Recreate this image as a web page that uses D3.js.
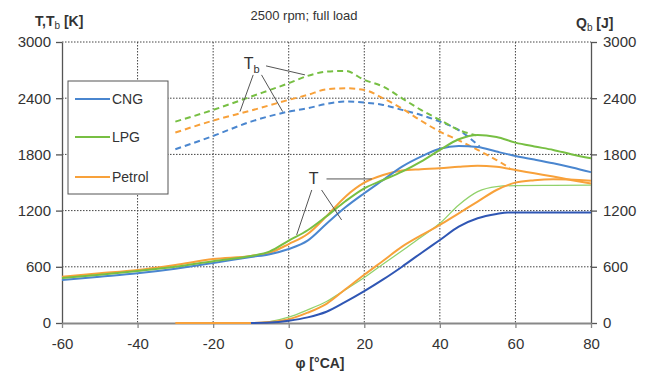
<!DOCTYPE html>
<html><head><meta charset="utf-8">
<script src="https://cdn.jsdelivr.net/npm/d3@7"></script>
<style>body{margin:0;background:#fff}svg{display:block;font-family:"Liberation Sans",Arial,sans-serif}</style>
</head><body><svg id="c" width="646" height="374"></svg>
<script>
// ---- data ----
const xTicks = [-60,-40,-20,0,20,40,60,80];
const yTicks = [0,600,1200,1800,2400,3000];
const seriesNames = ["CNG","LPG","Petrol"];

const tX = [-60,-50,-40,-30,-20,-10,-5,0,5,10,15,20,25,30,35,40,45,50,55,60,65,70,75,80];
const tCNG    = [460,495,531,580,640,705,735,790,880,1060,1235,1385,1527,1669,1776,1860,1890,1880,1830,1783,1745,1705,1660,1610];
const tLPG    = [480,515,555,600,660,715,765,880,990,1140,1300,1438,1527,1616,1723,1848,1962,2008,1985,1926,1885,1848,1800,1759];
const tPetrol = [495,530,566,620,683,716,750,843,950,1140,1349,1498,1580,1627,1641,1652,1669,1680,1667,1634,1598,1563,1525,1490];

const tbCNGx    = [-30,-20,-10,0,5,10,15,20,25,30,35,40,45,50.5];
const tbCNG     = [1855,1997,2150,2257,2293,2339,2364,2353,2328,2275,2221,2150,2060,1885];
const tbLPGx    = [-30,-20,-10,0,5,10,15,20,25,30,35,40,45,49.5];
const tbLPG     = [2150,2275,2417,2560,2638,2684,2691,2595,2524,2399,2275,2168,2061,2005];
const tbPetrolx = [-30,-20,-10,0,5,10,15,20,25,30,35,40,45,50,55,58.5];
const tbPetrol  = [2033,2161,2268,2382,2435,2495,2506,2488,2399,2290,2160,2043,1950,1848,1740,1655];

const qCNGx    = [-10,-5,0,5,10,15,20,25,30,35,40,45,50,55,58,60,70,80];
const qCNG     = [0,5,25,60,120,225,340,465,601,745,886,1029,1118,1164,1180,1180,1180,1180];
const qLPGx    = [-22,-10,-5,0,5,10,15,20,25,30,35,40,45,50,55,60,70,80];
const qLPG     = [0,0,15,62,140,230,355,485,630,772,915,1064,1260,1402,1456,1467,1470,1472];
const qPetrolx = [-30,-20,-10,-5,0,5,10,15,20,25,30,35,40,45,50,55,60,65,70,80];
const qPetrol  = [0,0,0,10,40,110,205,360,515,665,815,935,1047,1171,1296,1420,1499,1525,1535,1520];

// ---- layout ----
const svg = d3.select("#c");
const x = d3.scaleLinear().domain([-60,80]).range([62,591]);
const y = d3.scaleLinear().domain([0,3000]).range([323,42]);
const c = {CNG:"#4a86cf", LPG:"#77bf43", Petrol:"#f8a13a"};
const cQ = {CNG:"#2f56b4", LPG:"#92d26c", Petrol:"#f8a13a"};
const fmt = d => String(d);

// grid
const g = svg.append("g");
g.selectAll(".gx").data(xTicks.filter(d=>d>-60&&d<80)).enter().append("line")
 .attr("x1",d=>x(d)).attr("x2",d=>x(d)).attr("y1",y(3000)).attr("y2",y(0))
 .attr("stroke","#444").attr("stroke-width",1).attr("stroke-dasharray","1.5,1.5");
g.selectAll(".gy").data(yTicks.filter(d=>d>0)).enter().append("line")
 .attr("x1",x(-60)).attr("x2",x(80)).attr("y1",d=>y(d)).attr("y2",d=>y(d))
 .attr("stroke","#444").attr("stroke-width",1).attr("stroke-dasharray","1.5,1.5");

// axes
const axL = d3.axisLeft(y).tickValues(yTicks).tickFormat(fmt).tickSize(6).tickSizeOuter(0).tickPadding(5);
const axR = d3.axisRight(y).tickValues(yTicks).tickFormat(fmt).tickSize(6).tickSizeOuter(0).tickPadding(6);
const axB = d3.axisBottom(x).tickValues(xTicks).tickFormat(fmt).tickSize(5).tickSizeOuter(0).tickPadding(7);
function style(sel,col,w){sel.select(".domain").attr("stroke",col).attr("stroke-width",w);
 sel.selectAll(".tick line").attr("stroke",col).attr("stroke-width",1.3);
 sel.selectAll(".tick text").attr("fill","#333").attr("font-size",15).attr("font-family","Liberation Sans, Arial, sans-serif");}
const gl = svg.append("g").attr("transform",`translate(${x(-60)},0)`).call(axL); style(gl,"#555",1.3);
const gr = svg.append("g").attr("transform",`translate(${x(80)},0)`).call(axR); style(gr,"#555",1.3);
const gb = svg.append("g").attr("transform",`translate(0,${y(0)})`).call(axB); style(gb,"#888",2);
gb.selectAll(".tick text").attr("dy","0.9em");

// lines
const line = d3.line().x(d=>x(d[0])).y(d=>y(d[1])).curve(d3.curveMonotoneX);
const zip = (a,b)=>a.map((v,i)=>[v,b[i]]);
const T = {CNG:zip(tX,tCNG), LPG:zip(tX,tLPG), Petrol:zip(tX,tPetrol)};
const TB = {CNG:zip(tbCNGx,tbCNG), LPG:zip(tbLPGx,tbLPG), Petrol:zip(tbPetrolx,tbPetrol)};
const Q = {CNG:zip(qCNGx,qCNG), LPG:zip(qLPGx,qLPG), Petrol:zip(qPetrolx,qPetrol)};
const L = svg.append("g").attr("fill","none");
["LPG","Petrol","CNG"].forEach(k=>L.append("path").attr("d",line(Q[k])).attr("stroke",cQ[k]).attr("stroke-width",k==="LPG"?1.3:2));
["CNG","Petrol","LPG"].forEach(k=>L.append("path").attr("d",line(TB[k])).attr("stroke",c[k]).attr("stroke-width",2).attr("stroke-dasharray","6,4"));
["Petrol","CNG","LPG"].forEach(k=>L.append("path").attr("d",line(T[k])).attr("stroke",c[k]).attr("stroke-width",2));

// annotations (data units)
const leaders = [
 [-6.0,2745,4.3,2649],[-9.4,2649,-12.9,2257],[-7.2,2649,-1.6,2257],
 [6.1,1420,2.1,940],[8.7,1420,14.0,1100],[10.0,1538,22.0,1538]
];
svg.append("g").selectAll("line").data(leaders).enter().append("line")
 .attr("x1",d=>x(d[0])).attr("y1",d=>y(d[1])).attr("x2",d=>x(d[2])).attr("y2",d=>y(d[3]))
 .attr("stroke","#555").attr("stroke-width",1);
const tb = svg.append("text").attr("x",x(-9.8)).attr("y",y(2715)).attr("text-anchor","middle").attr("font-size",16).attr("fill","#333");
tb.append("tspan").text("T"); tb.append("tspan").attr("font-size",11).attr("dy",4).text("b");
svg.append("text").attr("x",x(6.6)).attr("y",y(1488)).attr("text-anchor","middle").attr("font-size",16).attr("fill","#333").text("T");

// legend
const lg = svg.append("g");
lg.append("rect").attr("x",68).attr("y",81).attr("width",100).attr("height",113).attr("fill","#fff").attr("stroke","#555").attr("stroke-width",1);
seriesNames.forEach((k,i)=>{
 const yy = [99,137,177][i];
 lg.append("line").attr("x1",75).attr("x2",110).attr("y1",yy).attr("y2",yy).attr("stroke",c[k]).attr("stroke-width",2);
 lg.append("text").attr("x",112).attr("y",yy+5).attr("font-size",14).attr("fill","#333").text(k);
});

// titles
svg.append("text").attr("x",304).attr("y",20).attr("text-anchor","middle").attr("font-size",13).attr("fill","#333").text("2500 rpm; full load");
const yl = svg.append("text").attr("x",35).attr("y",26).attr("font-size",14).attr("font-weight","bold").attr("fill","#333");
yl.append("tspan").text("T,T"); yl.append("tspan").attr("font-size",10).attr("dy",3).attr("font-weight","normal").text("b");
yl.append("tspan").attr("dy",-3).text(" [K]");
const yr = svg.append("text").attr("x",576).attr("y",28).attr("font-size",14).attr("font-weight","bold").attr("fill","#333");
yr.append("tspan").text("Q"); yr.append("tspan").attr("font-size",10).attr("dy",3).attr("font-weight","normal").text("b");
yr.append("tspan").attr("dy",-3).text(" [J]");
svg.append("text").attr("x",320).attr("y",368).attr("text-anchor","middle").attr("font-size",14).attr("font-weight","bold").attr("fill","#333").text("φ [°CA]");
</script></body></html>
